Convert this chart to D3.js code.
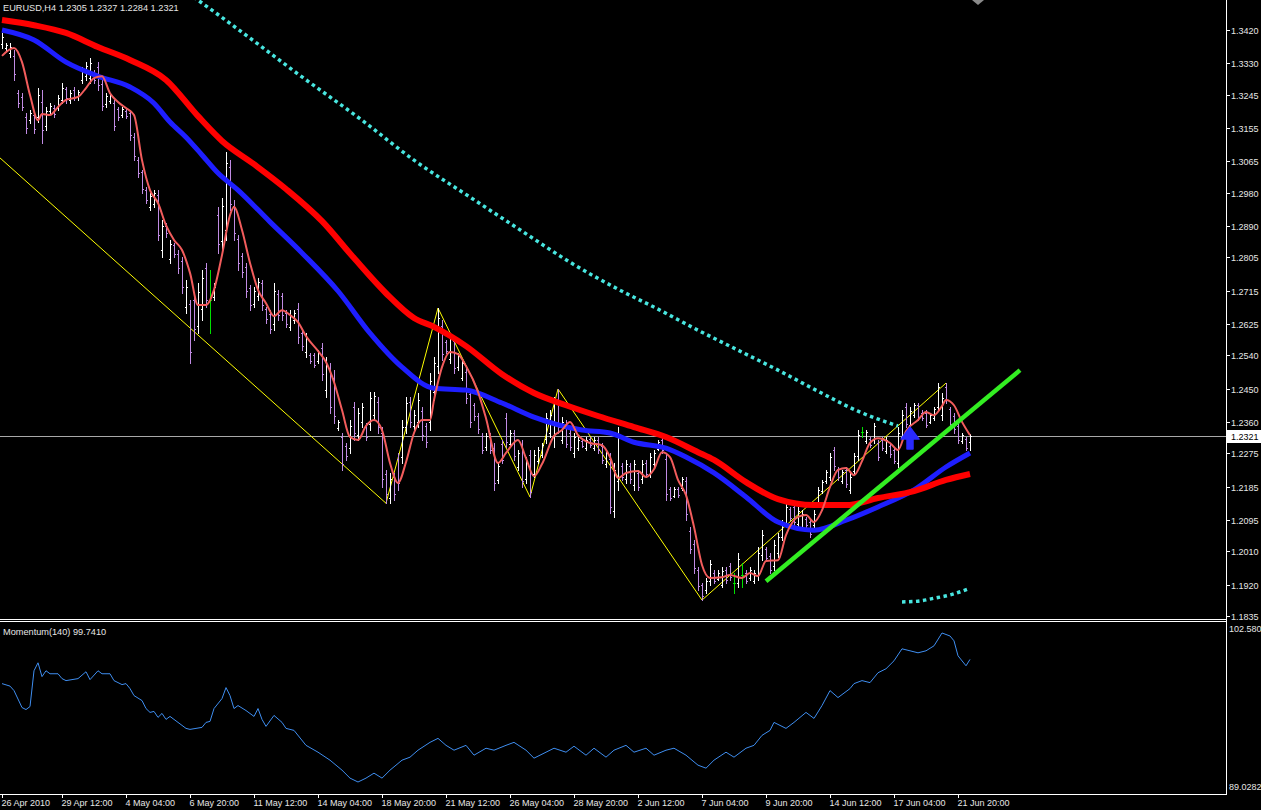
<!DOCTYPE html>
<html><head><meta charset="utf-8">
<script src="https://cdn.jsdelivr.net/npm/d3@7"></script>
<style>html,body{margin:0;padding:0;background:#000;overflow:hidden}svg{display:block}text{font-family:"Liberation Sans",Arial,sans-serif}</style>
</head><body><svg id="c" width="1261" height="810"></svg>
<script>
// ---------- DATA ----------
const symbolTitle = "EURUSD,H4  1.2305 1.2327 1.2284 1.2321";
const momTitle = "Momentum(140) 99.7410";
const lastPrice = 1.2321;
const priceTicks = [1.3420,1.3330,1.3245,1.3155,1.3065,1.2980,1.2890,1.2805,1.2715,1.2625,1.2540,1.2450,1.2360,1.2275,1.2185,1.2095,1.2010,1.1920,1.1835];
const momTicks = [102.580, 89.0282];
const timeLabels = ["26 Apr 2010","29 Apr 12:00","4 May 04:00","6 May 20:00","11 May 12:00","14 May 04:00","18 May 20:00","21 May 12:00","26 May 04:00","28 May 20:00","2 Jun 12:00","7 Jun 04:00","9 Jun 20:00","14 Jun 12:00","17 Jun 04:00","21 Jun 20:00"];
const timeLabelBar = [0,15,31,47,63,79,95,111,127,143,159,175,191,207,223,239];

const barHigh = [
1.3412,1.3385,1.3385,1.3366,1.3258,1.3249,1.3195,1.3203,1.3195,1.3263,
1.3258,1.3212,1.3222,1.3217,1.3244,1.3276,1.3266,1.3258,1.3266,1.3258,
1.3320,1.3333,1.3344,1.3312,1.3333,1.3285,1.3249,1.3249,1.3230,1.3212,
1.3212,1.3209,1.3203,1.3141,1.3076,1.3041,1.2995,1.2979,1.2987,1.2987,
1.2906,1.2898,1.2852,1.2844,1.2825,1.2806,1.2744,1.2690,1.2708,1.2736,
1.2771,1.2790,1.2771,1.2736,1.2941,1.2965,1.3090,1.3068,1.2960,1.2865,
1.2817,1.2790,1.2730,1.2725,1.2749,1.2744,1.2671,1.2662,1.2736,1.2717,
1.2708,1.2662,1.2662,1.2662,1.2681,1.2608,1.2600,1.2546,1.2546,1.2554,
1.2573,1.2535,1.2519,1.2500,1.2365,1.2330,1.2303,1.2365,1.2414,1.2397,
1.2411,1.2357,1.2441,1.2441,1.2427,1.2346,1.2230,1.2222,1.2222,1.2276,
1.2365,1.2427,1.2427,1.2392,1.2438,1.2400,1.2357,1.2492,1.2535,1.2668,
1.2635,1.2581,1.2600,1.2589,1.2546,1.2527,1.2508,1.2446,1.2411,1.2384,
1.2330,1.2330,1.2330,1.2303,1.2249,1.2311,1.2384,1.2338,1.2338,1.2284,
1.2311,1.2265,1.2284,1.2284,1.2292,1.2303,1.2384,1.2392,1.2427,1.2449,
1.2373,1.2365,1.2338,1.2330,1.2319,1.2311,1.2319,1.2319,1.2319,1.2319,
1.2303,1.2284,1.2276,1.2249,1.2346,1.2249,1.2257,1.2249,1.2257,1.2230,
1.2257,1.2257,1.2276,1.2284,1.2311,1.2319,1.2276,1.2184,1.2184,1.2184,
1.2211,1.2211,1.2076,1.2040,1.1967,1.1924,1.1938,1.1986,1.1959,1.1959,
1.1967,1.1967,1.1978,1.1951,1.2005,1.1978,1.1959,1.1967,1.1959,1.2021,
1.2067,1.2021,1.2005,1.2040,1.2059,1.2094,1.2140,1.2130,1.2140,1.2130,
1.2121,1.2103,1.2094,1.2121,1.2184,1.2203,1.2230,1.2276,1.2292,1.2238,
1.2230,1.2238,1.2222,1.2276,1.2338,1.2346,1.2338,1.2319,1.2357,1.2311,
1.2319,1.2319,1.2303,1.2292,1.2346,1.2392,1.2411,1.2400,1.2411,1.2411,
1.2392,1.2392,1.2384,1.2400,1.2465,1.2438,1.2465,1.2400,1.2384,1.2357,
1.2330,1.2319,1.2327];
const barLow = [
1.3371,1.3366,1.3347,1.3285,1.3212,1.3203,1.3141,1.3168,1.3141,1.3171,
1.3114,1.3149,1.3195,1.3184,1.3203,1.3222,1.3222,1.3222,1.3230,1.3230,
1.3276,1.3285,1.3276,1.3276,1.3258,1.3203,1.3212,1.3222,1.3149,1.3176,
1.3184,1.3182,1.3122,1.3068,1.3022,1.2979,1.2952,1.2933,1.2941,1.2852,
1.2806,1.2860,1.2790,1.2806,1.2763,1.2708,1.2654,1.2519,1.2581,1.2600,
1.2635,1.2671,1.2600,1.2690,1.2817,1.2825,1.2852,1.2933,1.2852,1.2771,
1.2752,1.2698,1.2662,1.2671,1.2690,1.2662,1.2627,1.2600,1.2608,1.2635,
1.2635,1.2617,1.2608,1.2627,1.2573,1.2554,1.2535,1.2519,1.2508,1.2519,
1.2473,1.2427,1.2384,1.2357,1.2338,1.2230,1.2257,1.2276,1.2311,1.2311,
1.2346,1.2311,1.2338,1.2365,1.2330,1.2184,1.2140,1.2140,1.2149,1.2176,
1.2249,1.2330,1.2346,1.2338,1.2346,1.2311,1.2292,1.2338,1.2419,1.2492,
1.2527,1.2546,1.2519,1.2492,1.2500,1.2473,1.2411,1.2346,1.2365,1.2330,
1.2276,1.2284,1.2276,1.2176,1.2195,1.2249,1.2292,1.2292,1.2257,1.2230,
1.2184,1.2195,1.2157,1.2211,1.2249,1.2265,1.2303,1.2319,1.2292,1.2330,
1.2303,1.2292,1.2284,1.2265,1.2284,1.2292,1.2284,1.2292,1.2284,1.2276,
1.2249,1.2238,1.2113,1.2103,1.2176,1.2203,1.2195,1.2195,1.2176,1.2176,
1.2195,1.2211,1.2211,1.2238,1.2284,1.2276,1.2149,1.2149,1.2157,1.2157,
1.2176,1.2094,1.2005,1.1951,1.1905,1.1878,1.1897,1.1919,1.1924,1.1932,
1.1913,1.1924,1.1932,1.1897,1.1913,1.1913,1.1924,1.1932,1.1924,1.1932,
1.1986,1.1986,1.1951,1.1959,1.1994,1.2040,1.2076,1.2094,1.2076,1.2076,
1.2067,1.2076,1.2048,1.2076,1.2130,1.2167,1.2195,1.2203,1.2230,1.2203,
1.2195,1.2184,1.2167,1.2222,1.2257,1.2319,1.2303,1.2292,1.2303,1.2257,
1.2284,1.2276,1.2265,1.2249,1.2238,1.2311,1.2346,1.2346,1.2373,1.2365,
1.2365,1.2346,1.2357,1.2365,1.2392,1.2365,1.2411,1.2346,1.2330,1.2303,
1.2303,1.2284,1.2284];
const barOpen = [
1.3383,1.3371,1.3358,1.3350,1.3250,1.3240,1.3185,1.3176,1.3190,1.3185,
1.3225,1.3160,1.3200,1.3210,1.3210,1.3230,1.3260,1.3232,1.3258,1.3238,
1.3285,1.3295,1.3290,1.3305,1.3320,1.3275,1.3220,1.3228,1.3222,1.3205,
1.3190,1.3202,1.3195,1.3130,1.3068,1.3035,1.2988,1.2942,1.2950,1.2975,
1.2825,1.2890,1.2800,1.2838,1.2815,1.2795,1.2670,1.2680,1.2690,1.2620,
1.2665,1.2775,1.2690,1.2698,1.2920,1.2850,1.2880,1.3050,1.2945,1.2855,
1.2810,1.2780,1.2722,1.2680,1.2700,1.2735,1.2665,1.2652,1.2625,1.2705,
1.2700,1.2655,1.2618,1.2635,1.2665,1.2600,1.2548,1.2540,1.2540,1.2525,
1.2560,1.2445,1.2505,1.2480,1.2344,1.2320,1.2295,1.2290,1.2400,1.2325,
1.2360,1.2350,1.2355,1.2378,1.2415,1.2330,1.2220,1.2155,1.2210,1.2260,
1.2265,1.2345,1.2415,1.2348,1.2360,1.2390,1.2350,1.2360,1.2440,1.2510,
1.2620,1.2575,1.2530,1.2580,1.2508,1.2480,1.2495,1.2435,1.2405,1.2375,
1.2322,1.2292,1.2320,1.2290,1.2202,1.2300,1.2370,1.2300,1.2330,1.2238,
1.2295,1.2205,1.2270,1.2220,1.2255,1.2270,1.2315,1.2330,1.2320,1.2420,
1.2312,1.2355,1.2330,1.2275,1.2290,1.2308,1.2290,1.2315,1.2290,1.2312,
1.2295,1.2245,1.2260,1.2120,1.2200,1.2240,1.2205,1.2240,1.2190,1.2222,
1.2205,1.2250,1.2220,1.2245,1.2288,1.2312,1.2260,1.2178,1.2160,1.2178,
1.2180,1.2200,1.2065,1.2030,1.1960,1.1918,1.1905,1.1930,1.1952,1.1936,
1.1920,1.1960,1.1970,1.1925,1.1925,1.1945,1.1952,1.1938,1.1930,1.1945,
1.2000,1.2015,1.1998,1.1970,1.2005,1.2048,1.2085,1.2125,1.2130,1.2085,
1.2075,1.2098,1.2088,1.2082,1.2138,1.2172,1.2200,1.2212,1.2285,1.2232,
1.2200,1.2230,1.2175,1.2228,1.2268,1.2332,1.2308,1.2314,1.2310,1.2302,
1.2312,1.2282,1.2296,1.2285,1.2250,1.2320,1.2400,1.2352,1.2378,1.2405,
1.2385,1.2385,1.2360,1.2370,1.2400,1.2380,1.2455,1.2395,1.2375,1.2350,
1.2308,1.2315,1.2305];
const barClose = [
1.3400,1.3380,1.3374,1.3300,1.3222,1.3212,1.3155,1.3195,1.3152,1.3245,
1.3150,1.3200,1.3215,1.3192,1.3235,1.3262,1.3235,1.3250,1.3240,1.3252,
1.3310,1.3322,1.3330,1.3285,1.3270,1.3215,1.3242,1.3244,1.3160,1.3185,
1.3205,1.3188,1.3135,1.3080,1.3032,1.2990,1.2960,1.2970,1.2978,1.2865,
1.2890,1.2870,1.2840,1.2815,1.2775,1.2725,1.2725,1.2550,1.2610,1.2710,
1.2750,1.2690,1.2690,1.2725,1.2840,1.2945,1.3060,1.2950,1.2870,1.2790,
1.2765,1.2715,1.2675,1.2715,1.2738,1.2675,1.2638,1.2612,1.2715,1.2650,
1.2648,1.2625,1.2650,1.2655,1.2590,1.2565,1.2588,1.2525,1.2515,1.2548,
1.2490,1.2515,1.2400,1.2375,1.2360,1.2245,1.2268,1.2350,1.2330,1.2385,
1.2400,1.2320,1.2425,1.2430,1.2345,1.2205,1.2165,1.2205,1.2165,1.2195,
1.2345,1.2410,1.2360,1.2380,1.2420,1.2325,1.2305,1.2470,1.2520,1.2640,
1.2545,1.2552,1.2590,1.2505,1.2538,1.2518,1.2425,1.2360,1.2375,1.2340,
1.2285,1.2322,1.2285,1.2195,1.2240,1.2258,1.2305,1.2330,1.2268,1.2275,
1.2200,1.2255,1.2170,1.2270,1.2285,1.2298,1.2370,1.2380,1.2410,1.2345,
1.2360,1.2300,1.2292,1.2320,1.2312,1.2296,1.2312,1.2298,1.2312,1.2285,
1.2258,1.2276,1.2130,1.2230,1.2320,1.2212,1.2245,1.2205,1.2245,1.2185,
1.2245,1.2220,1.2265,1.2275,1.2305,1.2285,1.2165,1.2155,1.2178,1.2162,
1.2205,1.2110,1.2015,1.1965,1.1915,1.1888,1.1930,1.1975,1.1930,1.1952,
1.1958,1.1932,1.1940,1.1925,1.1990,1.1945,1.1930,1.1960,1.1952,1.2005,
1.2055,1.1992,1.1960,1.2028,1.2050,1.2085,1.2130,1.2100,1.2088,1.2120,
1.2112,1.2082,1.2058,1.2112,1.2176,1.2197,1.2224,1.2265,1.2240,1.2210,
1.2224,1.2192,1.2212,1.2268,1.2325,1.2332,1.2332,1.2298,1.2348,1.2265,
1.2290,1.2312,1.2272,1.2255,1.2330,1.2380,1.2355,1.2390,1.2405,1.2372,
1.2370,1.2352,1.2378,1.2395,1.2455,1.2425,1.2420,1.2355,1.2340,1.2312,
1.2325,1.2290,1.2321];

// fast (thin red) moving average, read at sampled bars
const fastIdx = [0,3,5,7,9,10,12,14,16,19,21,23,25,27,29,31,33,35,37,39,41,43,45,47,49,51,53,55,57,58,60,62,64,66,68,70,72,74,76,79,81,83,85,87,89,91,93,95,97,99,101,103,105,107,108,110,112,114,116,119,121,124,126,129,131,133,135,138,140,142,144,147,150,152,154,156,159,161,163,165,167,169,171,173,175,177,180,182,185,187,189,191,194,196,199,201,203,205,207,209,211,213,215,217,219,222,224,226,229,231,233,235,236,238,240,242];
const fastVal = [1.3350,1.3371,1.3333,1.3244,1.3176,1.3193,1.3190,1.3212,1.3231,1.3239,1.3263,1.3290,1.3295,1.3249,1.3225,1.3209,1.3190,1.3068,1.2987,1.2952,1.2892,1.2852,1.2825,1.2763,1.2676,1.2676,1.2717,1.2811,1.2919,1.2941,1.2879,1.2790,1.2717,1.2681,1.2646,1.2662,1.2649,1.2630,1.2592,1.2552,1.2522,1.2468,1.2392,1.2319,1.2311,1.2349,1.2365,1.2338,1.2249,1.2195,1.2251,1.2330,1.2365,1.2365,1.2419,1.2508,1.2549,1.2543,1.2511,1.2441,1.2370,1.2249,1.2276,1.2311,1.2262,1.2213,1.2246,1.2322,1.2338,1.2360,1.2324,1.2303,1.2297,1.2265,1.2208,1.2222,1.2227,1.2211,1.2232,1.2278,1.2265,1.2203,1.2162,1.2076,1.1973,1.1938,1.1940,1.1946,1.1938,1.1951,1.1943,1.1984,1.1986,1.2054,1.2103,1.2108,1.2089,1.2121,1.2184,1.2230,1.2235,1.2216,1.2254,1.2303,1.2316,1.2303,1.2284,1.2335,1.2365,1.2387,1.2378,1.2403,1.2419,1.2405,1.2360,1.2324];
// medium (blue) moving average
const midIdx = [0,8,16,24,32,38,42,46,50,54,59,67,75,84,92,100,108,116,125,133,145,152,158,166,171,178,186,194,203,211,219,228,236,242];
const midVal = [1.3420,1.3393,1.3333,1.3295,1.3266,1.3222,1.3171,1.3130,1.3082,1.3033,1.2987,1.2901,1.2817,1.2714,1.2600,1.2508,1.2451,1.2446,1.2411,1.2373,1.2338,1.2330,1.2305,1.2289,1.2265,1.2222,1.2157,1.2089,1.2067,1.2094,1.2130,1.2176,1.2238,1.2276];
// slow (thick red) moving average
const slowIdx = [0,8,16,24,32,41,49,55,63,71,80,88,96,103,108,116,125,133,141,149,158,166,174,178,186,194,203,211,219,228,236,242];
const slowVal = [1.3447,1.3433,1.3412,1.3374,1.3339,1.3285,1.3187,1.3120,1.3057,1.2990,1.2903,1.2803,1.2708,1.2641,1.2617,1.2565,1.2489,1.2438,1.2405,1.2376,1.2346,1.2319,1.2278,1.2257,1.2197,1.2151,1.2135,1.2135,1.2154,1.2173,1.2203,1.2219];
// long (cyan dotted) average, two visible segments
const longIdx = [45,50,62,74,90,103,117,130,142,154,164,174,184,194,204,214,224];
const longVal = [1.3531,1.3493,1.3398,1.3301,1.3176,1.3068,1.2968,1.2876,1.2792,1.2719,1.2665,1.2608,1.2554,1.2500,1.2443,1.2389,1.2349];
const long2Idx = [225,229,233,237,240,242];
const long2Val = [1.1873,1.1875,1.1883,1.1892,1.1902,1.1910];
// zigzag (yellow)
const zigIdx = [-0.5,96,109,132,139,175,236];
const zigVal = [1.3074,1.2140,1.2668,1.2157,1.2449,1.1878,1.2465];
// green trend line
const trendIdx = [191,254.5];
const trendVal = [1.1929,1.2500];
// blue arrow signal
const arrowIdx = [227];
const arrowVal = [1.2346];
// momentum(140)
const momIdx = [0,2,3,5,6,7,8,9,10,11,12,14,15,16,19,21,22,24,25,27,28,30,31,32,33,35,36,37,38,39,40,41,42,44,45,46,47,50,51,52,53,55,56,57,58,59,61,63,64,65,66,68,70,71,73,76,79,82,85,87,89,91,93,95,97,100,102,104,107,109,111,113,116,118,121,123,126,128,131,133,136,138,141,143,146,148,151,153,156,158,161,163,166,168,171,174,176,178,181,183,186,188,190,192,193,196,198,201,203,205,207,209,212,213,215,217,219,221,223,225,227,229,231,233,235,237,238,239,241,242];
const momVal = [97.80,97.60,97.24,95.88,95.72,95.96,98.83,99.47,98.36,98.83,98.59,98.59,98.20,98.04,98.20,98.75,98.12,98.83,98.59,98.59,98.04,97.72,97.80,97.40,96.84,96.44,95.80,95.49,95.57,95.09,95.41,94.93,95.17,94.69,94.45,94.21,94.13,94.29,94.69,94.77,95.80,96.60,97.48,96.84,95.80,96.04,95.64,95.17,95.80,94.93,94.37,95.25,94.69,94.21,94.05,92.85,92.30,91.66,90.86,90.22,89.91,90.22,90.62,90.22,90.86,91.66,91.90,92.46,93.09,93.41,92.85,92.46,92.85,92.06,92.62,92.46,92.85,93.09,92.46,91.82,92.30,92.62,92.30,92.78,92.06,92.62,91.90,92.46,92.85,92.30,92.62,92.06,92.46,92.62,92.06,91.26,91.02,91.66,92.30,91.90,92.62,92.85,93.65,94.05,94.69,94.21,94.69,95.49,95.01,96.04,97.24,96.68,97.40,97.80,98.04,97.88,98.67,98.99,99.63,100.59,100.43,100.27,100.43,100.83,101.86,101.62,101.23,100.03,99.23,99.741];
const shiftMarkIdx = 244;

// ---------- LAYOUT ----------
const svg = d3.select("#c");
const axisX = 1226;
const mainBottom = 619, momTop = 621, momBottom = 794;
const x = d3.scaleLinear().domain([0, 242]).range([2, 970]);
const y = d3.scaleLinear().domain([1.1835, 1.3420]).range([616, 30]);
const ym = d3.scaleLinear().domain([89.0282, 102.580]).range([793, 624]);
const txt = "#e6e6e6";

svg.append("rect").attr("width",1261).attr("height",810).attr("fill","#000");
const defs = svg.append("defs");
defs.append("clipPath").attr("id","cm").append("rect").attr("x",0).attr("y",0).attr("width",axisX).attr("height",mainBottom);
defs.append("clipPath").attr("id","cp").append("rect").attr("x",0).attr("y",momTop+1).attr("width",axisX).attr("height",momBottom-momTop-1);

const main = svg.append("g").attr("clip-path","url(#cm)");

// current price line
main.append("line").attr("x1",0).attr("x2",axisX).attr("y1",Math.round(y(lastPrice))+0.5).attr("y2",Math.round(y(lastPrice))+0.5)
  .attr("stroke","#a8a8a8").attr("stroke-width",1);

// zigzag
const zz = d3.range(zigIdx.length).map(i=>[zigIdx[i], zigVal[i]]);
main.append("path").attr("d", d3.line().x(d=>x(d[0])).y(d=>y(d[1]))(zz))
  .attr("fill","none").attr("stroke","#ffff00").attr("stroke-width",1);

// bars
const bars = d3.range(barHigh.length).map(i=>({i,h:barHigh[i],l:barLow[i],o:barOpen[i],c:barClose[i]}));
const colorOf = d => d.c > d.o ? "#ffffff" : (d.c < d.o ? "#c08be3" : "#00e000");
const bg = main.append("g").attr("shape-rendering","crispEdges");
bars.forEach(d=>{
  const px = Math.round(x(d.i));
  const yh = Math.round(y(d.h)), yl = Math.round(y(d.l));
  const col = colorOf(d);
  bg.append("rect").attr("x",px).attr("y",yh).attr("width",1).attr("height",Math.max(1,yl-yh+1)).attr("fill",col);
  bg.append("rect").attr("x",px-1).attr("y",Math.round(y(d.o))).attr("width",1).attr("height",1).attr("fill",col);
  bg.append("rect").attr("x",px+1).attr("y",Math.round(y(d.c))).attr("width",1).attr("height",1).attr("fill",col);
});

function series(idx, val){ return d3.range(idx.length).map(i=>[idx[i], val[i]]); }
const lineGen = d3.line().x(d=>x(d[0])).y(d=>y(d[1])).curve(d3.curveMonotoneX);

// cyan dotted long average
[series(longIdx,longVal), series(long2Idx,long2Val)].forEach(s=>{
  main.append("path").attr("d", lineGen(s)).attr("fill","none")
    .attr("stroke","#48e6e0").attr("stroke-width",3.5).attr("stroke-dasharray","3.5 3.5");
});
// blue average
main.append("path").attr("d", lineGen(series(midIdx,midVal))).attr("fill","none")
  .attr("stroke","#1e1eff").attr("stroke-width",5).attr("stroke-linejoin","round");
// red thick average
main.append("path").attr("d", lineGen(series(slowIdx,slowVal))).attr("fill","none")
  .attr("stroke","#ff0000").attr("stroke-width",6).attr("stroke-linejoin","round");
// fast thin average
main.append("path").attr("d", lineGen(series(fastIdx,fastVal))).attr("fill","none")
  .attr("stroke","#f25c5c").attr("stroke-width",2).attr("stroke-linejoin","round");
// green trend line
main.append("path").attr("d", d3.line().x(d=>x(d[0])).y(d=>y(d[1]))(series(trendIdx,trendVal)))
  .attr("fill","none").attr("stroke","#33ee22").attr("stroke-width",4.5);
// blue arrow
arrowIdx.forEach((a,k)=>{
  main.append("path").attr("transform",`translate(${x(a)},${y(arrowVal[k])})`)
    .attr("d","M0,0 L9,12 L3,12 L3,22 L-3,22 L-3,12 L-9,12 Z").attr("fill","#2a2aff")
    .attr("stroke","#2a2aff").attr("stroke-width",1.5).attr("stroke-linejoin","round");
});
// chart shift marker
svg.append("path").attr("transform",`translate(${x(shiftMarkIdx)},0)`).attr("d","M-6,0 L6,0 L0,5 Z").attr("fill","#8a8a8a");

// title
svg.append("text").attr("x",3).attr("y",11).attr("fill",txt).attr("font-size",9.2).text(symbolTitle);

// frames
const fr = svg.append("g").attr("stroke","#ffffff").attr("stroke-width",1).attr("shape-rendering","crispEdges");
fr.append("line").attr("x1",axisX+0.5).attr("x2",axisX+0.5).attr("y1",0).attr("y2",momBottom+0.5);
fr.append("line").attr("x1",0).attr("x2",axisX).attr("y1",mainBottom+0.5).attr("y2",mainBottom+0.5);
fr.append("line").attr("x1",0).attr("x2",axisX).attr("y1",momTop+0.5).attr("y2",momTop+0.5);
fr.append("line").attr("x1",0).attr("x2",axisX).attr("y1",momBottom+0.5).attr("y2",momBottom+0.5);

// price axis
const pa = svg.append("g");
priceTicks.forEach(t=>{
  const py = Math.round(y(t))+0.5;
  pa.append("line").attr("x1",axisX).attr("x2",axisX+4).attr("y1",py).attr("y2",py).attr("stroke","#fff").attr("shape-rendering","crispEdges");
  pa.append("text").attr("x",1231).attr("y",py).attr("dy","0.35em").attr("fill",txt).attr("font-size",9).text(t.toFixed(4));
});
// current price label
const ly = Math.round(y(lastPrice));
pa.append("rect").attr("x",axisX+1).attr("y",ly-6).attr("width",35).attr("height",13).attr("fill","#ffffff");
pa.append("text").attr("x",1231).attr("y",ly+0.5).attr("dy","0.35em").attr("fill","#000").attr("font-size",9).text(lastPrice.toFixed(4));

// momentum panel
const mp = svg.append("g").attr("clip-path","url(#cp)");
mp.append("path").attr("d", d3.line().x(d=>x(d[0])).y(d=>ym(d[1]))(series(momIdx,momVal)))
  .attr("fill","none").attr("stroke","#3f8ef0").attr("stroke-width",1);
svg.append("text").attr("x",3).attr("y",635).attr("fill",txt).attr("font-size",9.2).text(momTitle);
svg.append("text").attr("x",1229).attr("y",ym(momTicks[0])+5).attr("dy","0.35em").attr("fill",txt).attr("font-size",9).text(momTicks[0].toFixed(3));
svg.append("text").attr("x",1229).attr("y",ym(momTicks[1])-6).attr("dy","0.35em").attr("fill",txt).attr("font-size",9).text(momTicks[1].toFixed(4));

// time axis
const ta = svg.append("g");
timeLabelBar.forEach((b,k)=>{
  const tx = Math.round(x(b))+0.5;
  ta.append("line").attr("x1",tx).attr("x2",tx).attr("y1",momBottom).attr("y2",momBottom+4).attr("stroke","#fff").attr("shape-rendering","crispEdges");
  ta.append("text").attr("x",tx-1).attr("y",806).attr("fill",txt).attr("font-size",9).text(timeLabels[k]);
});
</script></body></html>
